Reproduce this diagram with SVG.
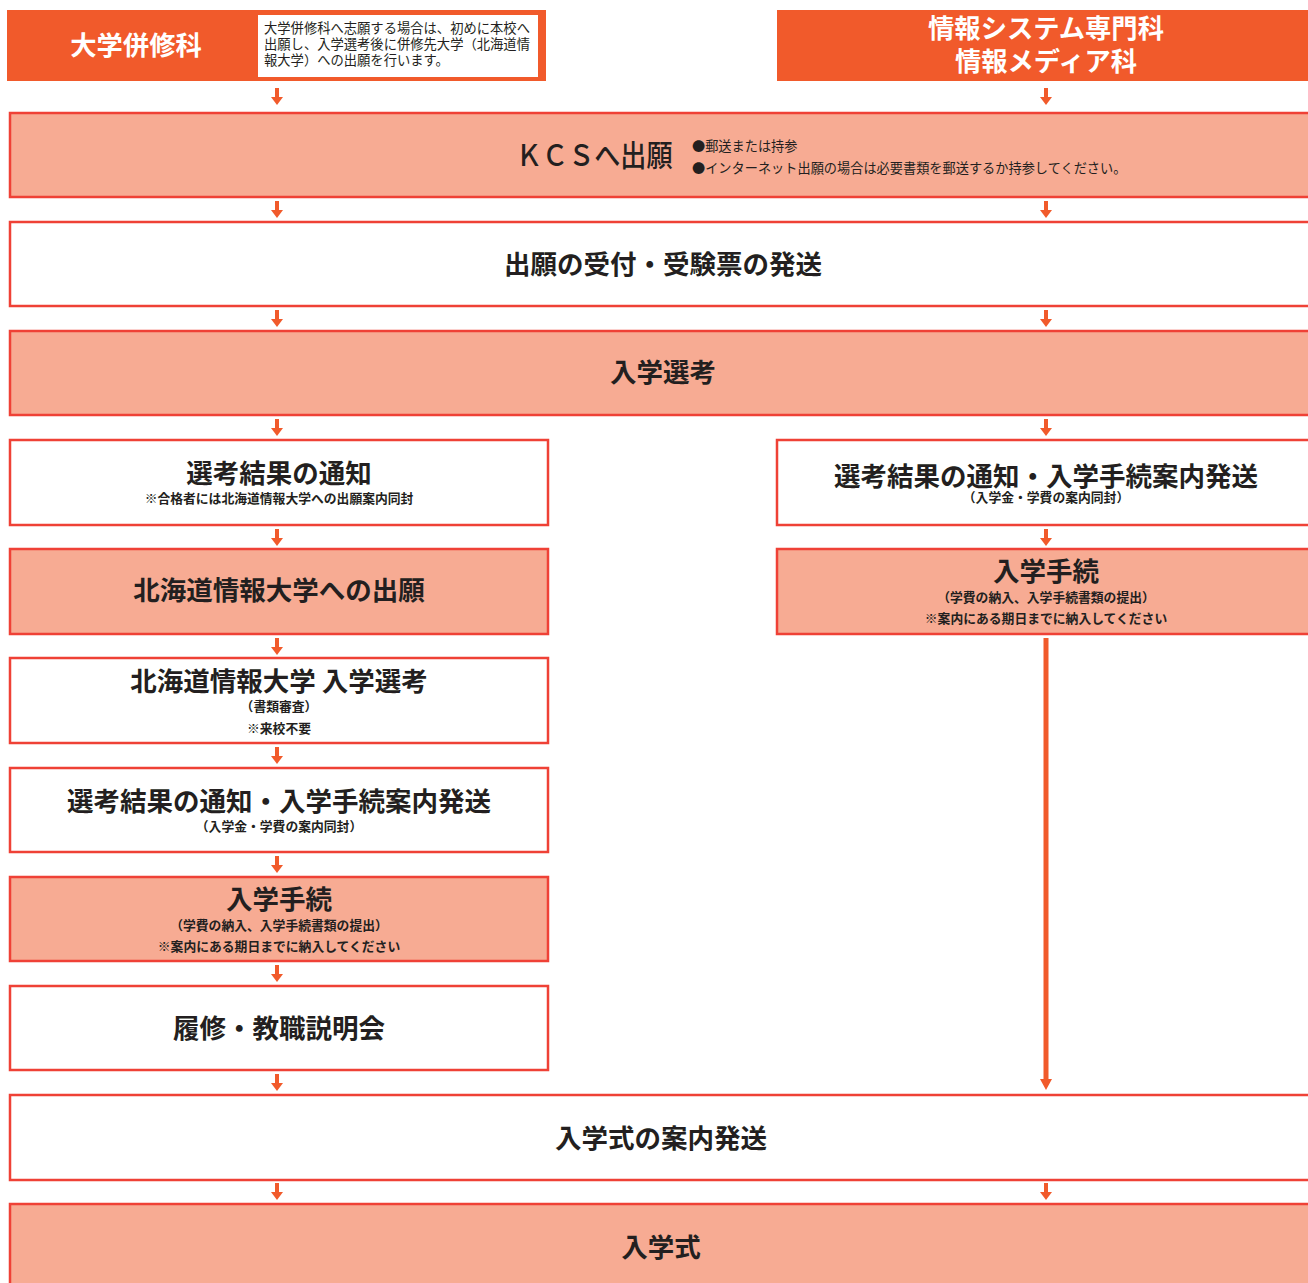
<svg xmlns="http://www.w3.org/2000/svg" xmlns:xlink="http://www.w3.org/1999/xlink" width="1308" height="1283" viewBox="0 0 1308 1283">
<style>
.hdr{fill:#f15a2b}
.pink{fill:#f7ab93;stroke:#ef4136;stroke-width:2.5}
.white{fill:#ffffff;stroke:#ef4136;stroke-width:2.5}
.t{font-family:"Noto Sans CJK JP","Noto Sans CJK SC",sans-serif;font-weight:bold;fill:#231f20;text-anchor:middle}
.big{font-size:26.5px}
.sm{font-size:12.8px}
.ht{font-family:"Noto Sans CJK JP","Noto Sans CJK SC",sans-serif;font-weight:bold;fill:#ffffff;font-size:26.3px;text-anchor:middle}
.note{font-family:"Noto Sans CJK JP","Noto Sans CJK SC",sans-serif;font-size:13.3px;fill:#231f20}
.bul{font-family:"Noto Sans CJK JP","Noto Sans CJK SC",sans-serif;font-size:13.2px;fill:#231f20}
.arr{fill:#f15a2b}
</style>
<defs>
<path id="a" d="M-2,0 H2 V9 H6 L0,17 L-6,9 H-2 Z"/>
</defs>
<rect width="1308" height="1283" fill="#ffffff"/>

<g id="hdr-left">
<rect class="hdr" x="7" y="10" width="539" height="71"/>
<text class="ht" x="136" y="55">大学併修科</text>
<rect x="258" y="15" width="280" height="62" fill="#ffffff"/>
<text class="note" x="264" y="33">大学併修科へ志願する場合は、初めに本校へ</text>
<text class="note" x="264" y="49">出願し、入学選考後に併修先大学（北海道情</text>
<text class="note" x="264" y="65">報大学）への出願を行います。</text>
</g>
<g id="hdr-right">
<rect class="hdr" x="777" y="10" width="531" height="71"/>
<text class="ht" x="1046" y="38">情報システム専門科</text>
<text class="ht" x="1046" y="71">情報メディア科</text>
</g>

<g id="kcs">
<rect class="pink" x="10" y="113" width="1310" height="84"/>
<text transform="translate(516,166) scale(0.87,1)" font-family="'Noto Sans CJK JP',sans-serif" font-weight="500" font-size="30" fill="#231f20">ＫＣＳへ出願</text>
<text class="bul" x="692" y="151">●郵送または持参</text>
<text class="bul" x="692" y="173">●インターネット出願の場合は必要書類を郵送するか持参してください。</text>
</g>
<g id="uketsuke">
<rect class="white" x="10" y="222" width="1310" height="84"/>
<text class="t big" x="663" y="274">出願の受付・受験票の発送</text>
</g>
<g id="senkou">
<rect class="pink" x="10" y="331" width="1310" height="84"/>
<text class="t big" x="663" y="382">入学選考</text>
</g>

<g id="l1">
<rect class="white" x="10" y="440" width="538" height="85"/>
<text class="t big" x="279" y="483">選考結果の通知</text>
<text class="t sm" x="279" y="503" font-size="13.3">※合格者には北海道情報大学への出願案内同封</text>
</g>
<g id="r1">
<rect class="white" x="777" y="440" width="540" height="85"/>
<text class="t big" x="1046" y="486">選考結果の通知・入学手続案内発送</text>
<text class="t sm" x="1046" y="502" font-size="12.4">（入学金・学費の案内同封）</text>
</g>
<g id="l2">
<rect class="pink" x="10" y="549" width="538" height="85"/>
<text class="t big" x="279" y="600">北海道情報大学への出願</text>
</g>
<g id="r2">
<rect class="pink" x="777" y="549" width="540" height="85"/>
<text class="t big" x="1046" y="581">入学手続</text>
<text class="t sm" x="1046" y="602">（学費の納入、入学手続書類の提出）</text>
<text class="t sm" x="1046" y="623" font-size="13.3">※案内にある期日までに納入してください</text>
</g>
<g id="l3">
<rect class="white" x="10" y="658" width="538" height="85"/>
<text class="t big" x="279" y="691">北海道情報大学 入学選考</text>
<text class="t sm" x="279" y="711">（書類審査）</text>
<text class="t sm" x="279" y="733">※来校不要</text>
</g>
<g id="l4">
<rect class="white" x="10" y="768" width="538" height="84"/>
<text class="t big" x="279" y="811">選考結果の通知・入学手続案内発送</text>
<text class="t sm" x="279" y="831" font-size="12.4">（入学金・学費の案内同封）</text>
</g>
<g id="l5">
<rect class="pink" x="10" y="877" width="538" height="84"/>
<text class="t big" x="279" y="909">入学手続</text>
<text class="t sm" x="279" y="930">（学費の納入、入学手続書類の提出）</text>
<text class="t sm" x="279" y="951" font-size="13.3">※案内にある期日までに納入してください</text>
</g>
<g id="l6">
<rect class="white" x="10" y="986" width="538" height="84"/>
<text class="t big" x="279" y="1038">履修・教職説明会</text>
</g>
<g id="annai">
<rect class="white" x="10" y="1095" width="1310" height="85"/>
<text class="t big" x="661" y="1148">入学式の案内発送</text>
</g>
<g id="shiki">
<rect class="pink" x="10" y="1204" width="1310" height="100"/>
<text class="t big" x="661" y="1257">入学式</text>
</g>

<g id="connectors" class="arr">
<use xlink:href="#a" x="277" y="88"/>
<use xlink:href="#a" x="1046" y="88"/>
<use xlink:href="#a" x="277" y="201"/>
<use xlink:href="#a" x="1046" y="201"/>
<use xlink:href="#a" x="277" y="310"/>
<use xlink:href="#a" x="1046" y="310"/>
<use xlink:href="#a" x="277" y="419"/>
<use xlink:href="#a" x="1046" y="419"/>
<use xlink:href="#a" x="277" y="529"/>
<use xlink:href="#a" x="1046" y="529"/>
<use xlink:href="#a" x="277" y="638"/>
<use xlink:href="#a" x="277" y="747"/>
<use xlink:href="#a" x="277" y="856"/>
<use xlink:href="#a" x="277" y="965"/>
<use xlink:href="#a" x="277" y="1074"/>
<use xlink:href="#a" x="277" y="1183"/>
<use xlink:href="#a" x="1046" y="1183"/>
<path d="M1043.5,638 H1048.5 V1079 H1052 L1046,1090 L1040,1079 H1043.5 Z"/>
</g>
</svg>
